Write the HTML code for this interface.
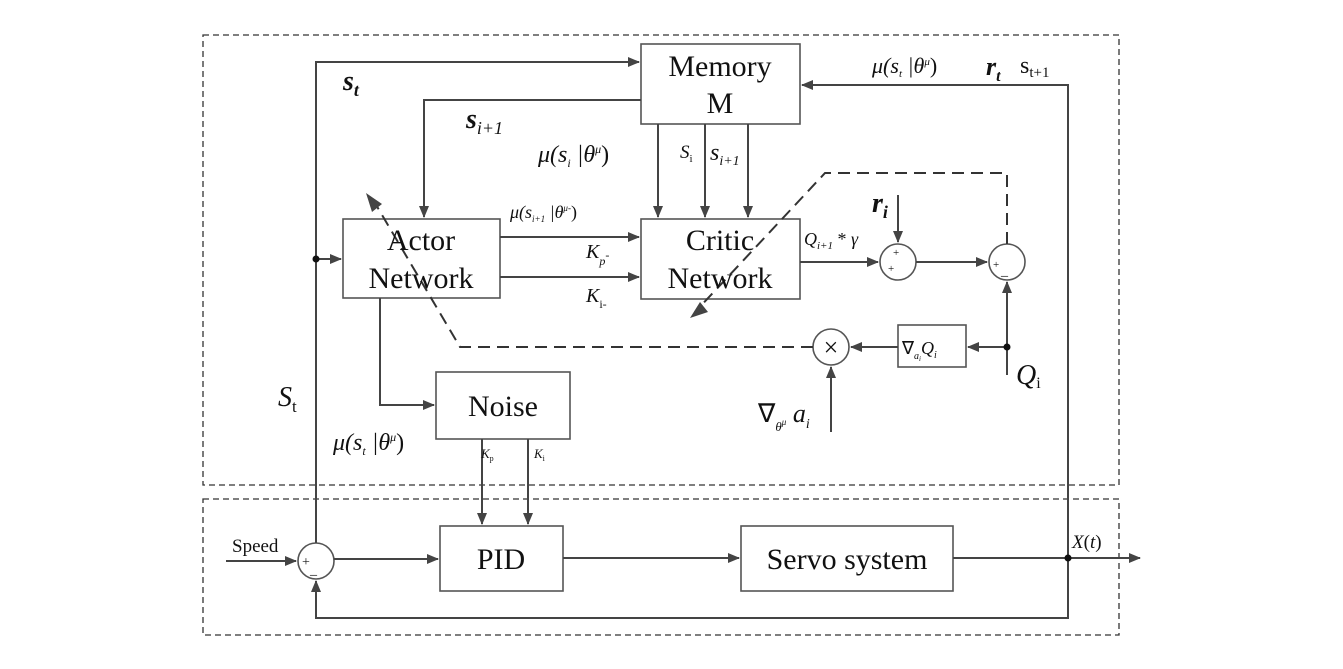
<!DOCTYPE html>
<html><head><meta charset="utf-8"><style>
body{margin:0;background:#fff}
svg{display:block}
text{font-family:"Liberation Serif",serif;fill:#111}
.i{font-style:italic}
</style></head><body>
<svg width="1343" height="669" viewBox="0 0 1343 669" xmlns="http://www.w3.org/2000/svg">
<defs>
<marker id="a" markerWidth="12" markerHeight="10" refX="11" refY="5" orient="auto" markerUnits="userSpaceOnUse">
<path d="M0,0 L12,5 L0,10 Z" fill="#444"/></marker>
</defs>
<g fill="none" stroke="#333" stroke-width="1.3" stroke-dasharray="6,4">
<rect x="203" y="35" width="916" height="450"/>
<rect x="203" y="499" width="916" height="136"/>
</g>
<g fill="#fff" stroke="#555" stroke-width="1.6">
<rect x="641" y="44" width="159" height="80"/>
<rect x="343" y="219" width="157" height="79"/>
<rect x="641" y="219" width="159" height="80"/>
<rect x="436" y="372" width="134" height="67"/>
<rect x="440" y="526" width="123" height="65"/>
<rect x="741" y="526" width="212" height="65"/>
<rect x="898" y="325" width="68" height="42"/>
<circle cx="898" cy="262" r="18"/>
<circle cx="1007" cy="262" r="18"/>
<circle cx="831" cy="347" r="18"/>
<circle cx="316" cy="561" r="18"/>
</g>
<g fill="none" stroke="#444" stroke-width="2">
<path d="M316,543 V62 H639" marker-end="url(#a)"/>
<path d="M316,259 H341" marker-end="url(#a)"/>
<path d="M641,100 H424 V217" marker-end="url(#a)"/>
<path d="M658,124 V217" marker-end="url(#a)"/>
<path d="M705,124 V217" marker-end="url(#a)"/>
<path d="M748,124 V217" marker-end="url(#a)"/>
<path d="M500,237 H639" marker-end="url(#a)"/>
<path d="M500,277 H639" marker-end="url(#a)"/>
<path d="M800,262 H878" marker-end="url(#a)"/>
<path d="M916,262 H987" marker-end="url(#a)"/>
<path d="M898,195 V242" marker-end="url(#a)"/>
<path d="M1007,375 V282" marker-end="url(#a)"/>
<path d="M1007,347 H968" marker-end="url(#a)"/>
<path d="M898,347 H851" marker-end="url(#a)"/>
<path d="M831,432 V367" marker-end="url(#a)"/>
<path d="M380,298 V405 H434" marker-end="url(#a)"/>
<path d="M482,439 V524" marker-end="url(#a)"/>
<path d="M528,439 V524" marker-end="url(#a)"/>
<path d="M1068,558 V85 H802" marker-end="url(#a)"/>
<path d="M1068,558 V618 H316 V581" marker-end="url(#a)"/>
<path d="M226,561 H296" marker-end="url(#a)"/>
<path d="M334,559 H438" marker-end="url(#a)"/>
<path d="M563,558 H739" marker-end="url(#a)"/>
<path d="M953,558 H1140" marker-end="url(#a)"/>
</g>
<g fill="none" stroke="#333" stroke-width="2" stroke-dasharray="12,7">
<path d="M813,347 H460 L372,198"/>
<path d="M1007,244 V173 H825 L695,312"/>
</g>
<path d="M366,193 L382,204 L372,212 Z" fill="#444"/>
<path d="M690,318 L700,302 L708,312 Z" fill="#444"/>
<circle cx="316" cy="259" r="3.5" fill="#111"/>
<circle cx="1007" cy="347" r="3.5" fill="#111"/>
<circle cx="1068" cy="558" r="3.5" fill="#111"/>
<g font-size="30" text-anchor="middle">
<text x="720" y="76">Memory</text>
<text x="720" y="113">M</text>
<text x="421" y="250">Actor</text>
<text x="421" y="288">Network</text>
<text x="720" y="250">Critic</text>
<text x="720" y="288">Network</text>
<text x="503" y="416">Noise</text>
<text x="501" y="569">PID</text>
<text x="847" y="569">Servo system</text>
</g>
<text x="831" y="356" font-size="26" text-anchor="middle">×</text>
<text x="232" y="552" font-size="19">Speed</text>
<g font-size="11"><text x="888" y="272">+</text><text x="893" y="256">+</text><text x="993" y="268">+</text></g>
<text x="1001" y="275" font-size="14">_</text>
<text x="302" y="566" font-size="14">+</text><text x="310" y="574" font-size="14">_</text>
<text x="343" y="90" font-size="28" class="i" font-weight="bold">s<tspan font-size="18" dy="6">t</tspan></text>
<text x="466" y="128" font-size="28" class="i" font-weight="bold">s<tspan font-size="18" dy="6" font-weight="normal">i+1</tspan></text>
<text x="538" y="162" font-size="24" class="i">μ(s<tspan font-size="12" dy="5">i</tspan><tspan dy="-5"> |θ</tspan><tspan font-size="12" dy="-9">μ</tspan><tspan dy="9" font-style="normal">)</tspan></text>
<text x="680" y="158" font-size="19" class="i">S<tspan font-size="11" dy="4" font-style="normal">i</tspan></text>
<text x="710" y="160" font-size="24" class="i">s<tspan font-size="14" dy="5">i+1</tspan></text>
<text x="510" y="218" font-size="18" class="i">μ(s<tspan font-size="9" dy="4">i+1</tspan><tspan dy="-4"> |θ</tspan><tspan font-size="9" dy="-7">μ-</tspan><tspan dy="7" font-style="normal">)</tspan></text>
<text x="586" y="258" font-size="20" class="i">K<tspan font-size="12" dy="7">p</tspan><tspan font-size="12" dy="-6">-</tspan></text>
<text x="586" y="302" font-size="20" class="i">K<tspan font-size="12" dy="6" font-style="normal">i-</tspan></text>
<text x="804" y="245" font-size="18" class="i">Q<tspan font-size="11" dy="4">i+1</tspan><tspan dy="-4" font-style="normal"> * </tspan>γ</text>
<text x="872" y="212" font-size="28" class="i" font-weight="bold">r<tspan font-size="18" dy="6">i</tspan></text>
<text x="872" y="73" font-size="22" class="i">μ(s<tspan font-size="11" dy="4">t</tspan><tspan dy="-4"> |θ</tspan><tspan font-size="11" dy="-8">μ</tspan><tspan dy="8" font-style="normal">)</tspan></text>
<text x="986" y="75" font-size="26" class="i" font-weight="bold">r<tspan font-size="16" dy="6">t</tspan></text>
<text x="1020" y="73" font-size="24">s<tspan font-size="15" dy="4">t+1</tspan></text>
<text x="902" y="354" font-size="18">∇<tspan font-size="10" dy="5" class="i">a</tspan><tspan font-size="7" dy="2" class="i">i</tspan><tspan dy="-7" class="i">Q</tspan><tspan font-size="10" dy="4" class="i">i</tspan></text>
<text x="1016" y="384" font-size="28" class="i">Q<tspan font-size="16" dy="4" font-style="normal">i</tspan></text>
<text x="758" y="422" font-size="26">∇<tspan font-size="13" dy="9" class="i">θ</tspan><tspan font-size="9" dy="-6" class="i">μ</tspan><tspan font-size="26" dy="-3" class="i"> a</tspan><tspan font-size="14" dy="6" class="i">i</tspan></text>
<text x="278" y="406" font-size="28" class="i">S<tspan font-size="17" dy="6" font-style="normal">t</tspan></text>
<text x="333" y="450" font-size="24" class="i">μ(s<tspan font-size="12" dy="5">t</tspan><tspan dy="-5"> |θ</tspan><tspan font-size="12" dy="-9">μ</tspan><tspan dy="9" font-style="normal">)</tspan></text>
<text x="481" y="458" font-size="13" class="i">K<tspan font-size="8" dy="3" font-style="normal">p</tspan></text>
<text x="534" y="458" font-size="13" class="i">K<tspan font-size="8" dy="3" font-style="normal">i</tspan></text>
<text x="1072" y="548" font-size="19" class="i">X<tspan font-style="normal">(</tspan>t<tspan font-style="normal">)</tspan></text>
</svg>
</body></html>
